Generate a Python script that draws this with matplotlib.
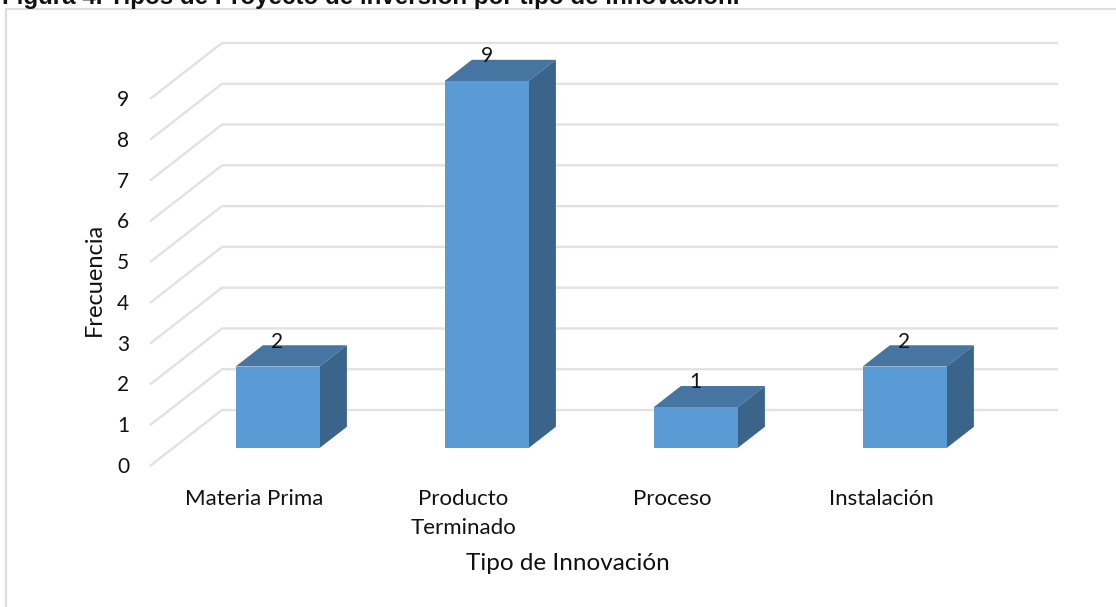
import matplotlib
matplotlib.use('Agg')
from matplotlib import pyplot as plt
from matplotlib.patches import Polygon, Rectangle

categories = ['Materia Prima', 'Producto\nTerminado', 'Proceso', 'Instalación']
values = [2, 9, 1, 2]
levels = [0, 1, 2, 3, 4, 5, 6, 7, 8, 9]

W, H = 1116, 607
plt.rcParams['font.family'] = ['Lato', 'DejaVu Sans']

fig = plt.figure(figsize=(W / 100, H / 100), dpi=100)

# frame of the pasted chart, runs off the right and bottom of the image
fig.add_artist(Rectangle((6 / W, -0.05), 1.1, 1 + 0.05 - 9 / H, transform=fig.transFigure,
                         fc='white', ec='#dedede', lw=1.6, zorder=-1))
fig.text(2 / W, 1 - 4 / H, 'Figura 4. Tipos de Proyecto de inversión por tipo de innovación.',
         family='Liberation Sans', weight='bold', fontsize=17.4, color='#111111', va='baseline')

# axes is the back wall of the fake 3d box
ax = fig.add_axes([222 / W, 1 - 410 / H, (1058 - 222) / W, (410 - 43) / H])
ax.set_xlim(0, 4)
ax.set_ylim(0, 9)
ax.axis('off')
ax.patch.set_alpha(0)

cat_w = 836 / 4
unit_h = 367 / 9
bar_w = 84 / cat_w


def pr(x, v, d):
    # shift a back wall point towards the viewer, d=1 is the front edge of the floor
    return x - d * 72 / cat_w, v - d * 56 / unit_h


grid = dict(color='#e2e2e2', lw=1.7, zorder=1, clip_on=False, solid_capstyle='butt')
for lv in levels:
    x0, y0 = pr(0, lv, 1)
    ax.plot([x0, 0, 4], [y0, lv, lv], **grid)
    ax.text(x0 - 27 / cat_w, y0 - 1 / unit_h, str(lv), ha='center', va='center', fontsize=15, color='#111111')

front_d = 0.68
back_d = 0.30
for i, (name, val) in enumerate(zip(categories, values)):
    c = i + 0.5
    l, r = c - bar_w / 2, c + bar_w / 2
    # the bar sits between front_d and back_d, shifted so fronts line up with the ticks
    top = [pr(l, val, front_d), pr(r, val, front_d), pr(r, val, back_d), pr(l, val, back_d)]
    side = [pr(r, 0, front_d), pr(r, 0, back_d), pr(r, val, back_d), pr(r, val, front_d)]
    front = [pr(l, 0, front_d), pr(r, 0, front_d), pr(r, val, front_d), pr(l, val, front_d)]
    ax.add_patch(Polygon(top, fc='#4575a0', ec='none', zorder=3, clip_on=False))
    ax.add_patch(Polygon(side, fc='#3a6489', ec='none', zorder=3, clip_on=False))
    ax.add_patch(Polygon(front, fc='#5b9bd5', ec='none', zorder=4, clip_on=False))

    lx, ly = pr(c, val, front_d)
    ax.text(lx, ly + 25 / unit_h, str(val), ha='center', va='center', fontsize=15,
            color='#111111', zorder=5)

    tx, _ = pr(c, 0, 1)
    ax.text(tx, -79 / unit_h, name, ha='center', va='top', fontsize=16,
            color='#111111', linespacing=1.55, clip_on=False)

fig.text(568 / W, 1 - 563 / H, 'Tipo de Innovación', ha='center', va='center', fontsize=17.5, color='#111111')
fig.text(94 / W, 1 - 279 / H, 'Frecuencia', ha='center', va='center', rotation=90, fontsize=17, color='#111111')

fig.savefig('out.png', dpi=100)
